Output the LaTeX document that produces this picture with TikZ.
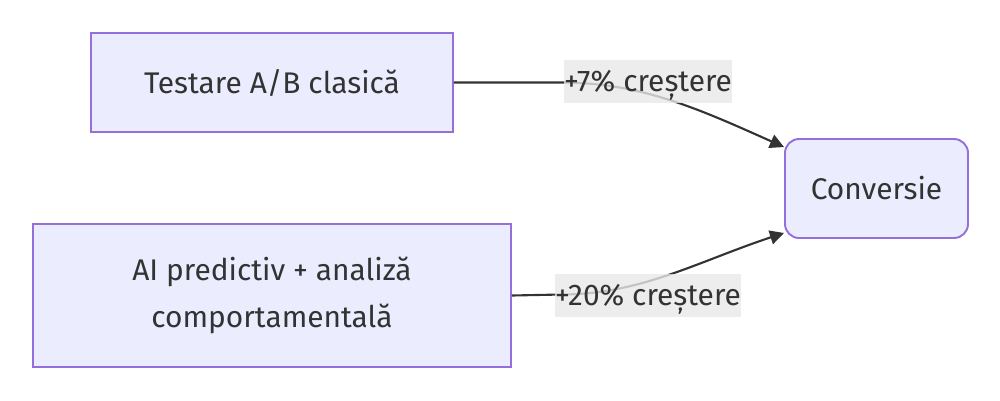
\documentclass[tikz,border=0pt]{standalone}
\usepackage{fontspec}
\setmainfont{Fira Sans}
\usetikzlibrary{arrows.meta,calc}
\definecolor{nodefill}{HTML}{ECECFF}
\definecolor{nodeborder}{HTML}{9370DB}
\definecolor{inktext}{HTML}{333333}
\definecolor{labelbg}{HTML}{E8E8E8}

\begin{document}
\begin{tikzpicture}[
  x=0.02cm, y=-0.02cm,
  >={Triangle[length=8pt,width=8pt]},
  box/.style={
    draw=nodeborder,
    fill=nodefill,
    line width=1.1pt,
    align=center,
    text=inktext,
    font=\fontsize{17}{27}\selectfont,
    inner sep=0pt
  },
  edge/.style={->, line width=1.2pt, draw=inktext},
  gain/.style={
    fill=labelbg,
    fill opacity=0.8,
    text opacity=1,
    text=inktext,
    font=\fontsize{17}{20}\selectfont,
    inner sep=0pt,
    text height=13pt,
    text depth=2pt,
    minimum height=43*0.02cm
  }
]
  \useasboundingbox (0,0) rectangle (1000,400);

  % Sources
  \node[box, minimum width=362*0.02cm, minimum height=99*0.02cm] (ab) at (272,82.5) {Testare A/B clasică};
  \node[box, minimum width=478*0.02cm, minimum height=143*0.02cm] (ai) at (272,295.5) {AI predictiv + analiză\\comportamentală};

  % Target
  \node[box, rounded corners=8pt, minimum width=183*0.02cm, minimum height=99*0.02cm] (conv) at (876.5,188.5) {Conversie};

  \coordinate (in1) at ($(conv.north west)+(0,9)$);
  \coordinate (in2) at ($(conv.south west)+(0,-6)$);

  \draw[edge] (ab.east) -- ++(107,0) .. controls +(80,0) and +(-85,-38) .. (in1);
  \draw[edge] (ai.east) -- ++(49,-1) .. controls +(80,0) and +(-85,28) .. (in2);

  % Edge labels
  \node[gain, minimum width=166*0.02cm] (l1) at (648,81.5) {+7\% creștere};
  \node[gain, minimum width=182*0.02cm] (l2) at (648,295.5) {+20\% creștere};

\end{tikzpicture}
\end{document}
